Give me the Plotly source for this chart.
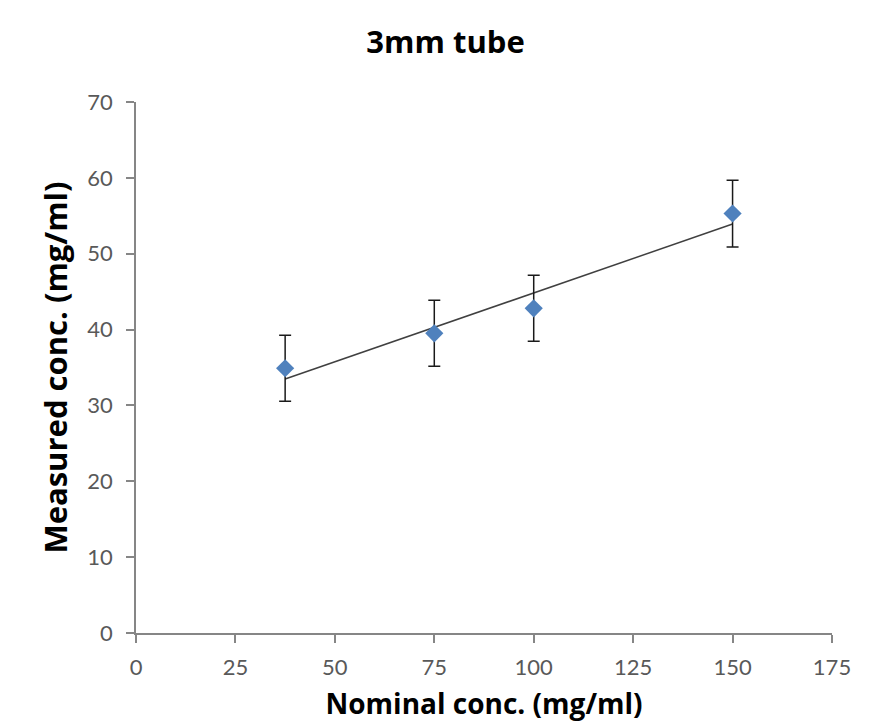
import numpy as np
import plotly.graph_objects as go

# Data
nominal = [37.5, 75, 100, 150]
measured = [34.9, 39.5, 42.8, 55.3]
err = [4.35, 4.35, 4.35, 4.4]

x_ticks = [0, 25, 50, 75, 100, 125, 150, 175]
y_ticks = [0, 10, 20, 30, 40, 50, 60, 70]

# linear trend line fitted to the data
slope, intercept = np.polyfit(nominal, measured, 1)
tx = [min(nominal), max(nominal)]
ty = [slope * v + intercept for v in tx]

fig = go.Figure()
fig.add_trace(go.Scatter(
    x=tx, y=ty, mode="lines",
    line=dict(color="#404040", width=1.5),
    showlegend=False, hoverinfo="skip",
))
fig.add_trace(go.Scatter(
    x=nominal, y=measured, mode="markers",
    marker=dict(symbol="diamond", size=14, color="#4F81BD"),
    error_y=dict(type="data", array=err, visible=True,
                 color="#1a1a1a", thickness=1.5, width=6),
    showlegend=False,
))

axis_font = dict(family="Lato, Open Sans, sans-serif", size=22, color="#595959")

fig.update_layout(
    width=891, height=727,
    margin=dict(l=136, r=59, t=102, b=94),
    paper_bgcolor="white", plot_bgcolor="white",
    title=dict(text="<b>3mm tube</b>", x=0.5, xanchor="center", y=0.942, yanchor="middle",
               font=dict(family="Open Sans, sans-serif", size=31, color="black")),
    xaxis=dict(
        range=[0, 175], tickvals=x_ticks, ticktext=[str(v) for v in x_ticks],
        showgrid=False, zeroline=False, showline=True, linecolor="#868686", linewidth=1.5,
        ticks="outside", ticklen=8, tickcolor="#868686", tickwidth=1.5,
        tickfont=axis_font, ticklabelstandoff=6,
        title=dict(text="<b>Nominal conc. (mg/ml)</b>",
                   font=dict(family="Open Sans, sans-serif", size=28, color="black"),
                   standoff=15),
    ),
    yaxis=dict(
        range=[0, 70], tickvals=y_ticks, ticktext=[str(v) for v in y_ticks],
        showgrid=False, zeroline=False, showline=True, linecolor="#868686", linewidth=1.5,
        ticks="outside", ticklen=8, tickcolor="#868686", tickwidth=1.5,
        tickfont=axis_font, ticklabelstandoff=9,
        title=dict(text="<b>Measured conc. (mg/ml)</b>",
                   font=dict(family="Open Sans, sans-serif", size=31, color="black"),
                   standoff=10),
    ),
)

fig.write_html("out.html")
